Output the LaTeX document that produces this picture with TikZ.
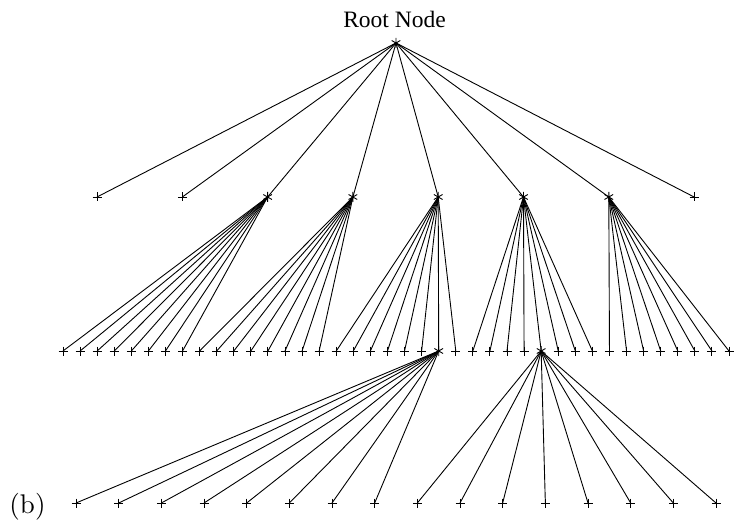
\documentclass[tikz,border=0pt]{standalone}
\usepackage{fontspec}
\newfontfamily\timesf{Liberation Serif}
\newfontfamily\cmten{lmroman10-regular.otf}
\tikzset{
  edge/.style={draw=black, line width=0.9pt},
  plusmark/.pic={\draw[line width=0.9pt] (-4.5,0)--(4.5,0) (0,-4.5)--(0,4.5);},
  starmark/.pic={\draw[line width=0.9pt] (90:5)--(270:5) (30:5)--(210:5) (150:5)--(330:5);}
}
\begin{document}
\begin{tikzpicture}[x=1pt,y=-1pt]
  \useasboundingbox (0,0) rectangle (746,521);
  % root
  \coordinate (root) at (396,43);
  \node[anchor=base, inner sep=0pt, font=\timesf\fontsize{23.5}{28}\selectfont] (rootlabel) at (394.5,28) {Root Node};
  % level 1: eight nodes
  \foreach \j in {0,...,7} {
    \coordinate (l1-\j) at ({97+\j*85.3},197);
  }
  % level 2: forty nodes
  \foreach \i in {0,...,39} {
    \coordinate (l2-\i) at ({63+\i*17.077},351);
  }
  % level 3: sixteen leaves
  \foreach \k in {0,...,15} {
    \coordinate (l3-\k) at ({76+\k*42.667},503);
  }
  % connectors
  \foreach \j in {0,...,7} { \path[edge] (root) -- (l1-\j); }
  \foreach \j in {2,...,6} {
    \foreach \c in {0,...,7} {
      \pgfmathtruncatemacro{\idx}{(\j-2)*8+\c}
      \path[edge] (l1-\j) -- (l2-\idx);
    }
  }
  \foreach \c in {0,...,7} {
    \pgfmathtruncatemacro{\kb}{8+\c}
    \path[edge] (l2-22) -- (l3-\c);
    \path[edge] (l2-28) -- (l3-\kb);
  }
  % markers
  \pic at (root) {starmark};
  \foreach \j in {0,1,7} { \pic at (l1-\j) {plusmark}; }
  \foreach \j in {2,...,6} { \pic at (l1-\j) {starmark}; }
  \foreach \i in {0,...,39} {
    \ifnum\i=22 \pic at (l2-\i) {starmark};
    \else\ifnum\i=28 \pic at (l2-\i) {starmark};
    \else \pic at (l2-\i) {plusmark};
    \fi\fi
  }
  \foreach \k in {0,...,15} { \pic at (l3-\k) {plusmark}; }
  % panel label
  \node[anchor=base, inner sep=0pt, font=\cmten\fontsize{27}{32}\selectfont] (panel) at (27.5,513) {(b)};
\end{tikzpicture}
\end{document}
